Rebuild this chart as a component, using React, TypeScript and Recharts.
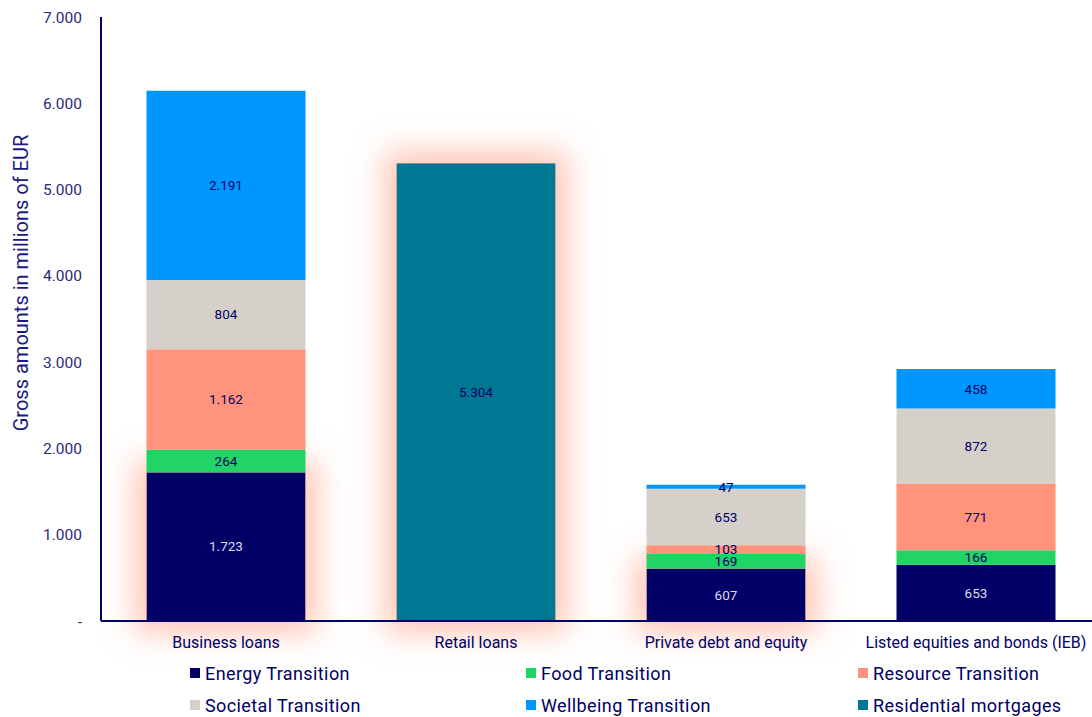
import React from "react";
import { BarChart, Bar, XAxis, YAxis, LabelList, Rectangle } from "recharts";

const categories = [
  "Business loans",
  "Retail loans",
  "Private debt and equity",
  "Listed equities and bonds (IEB)",
];
const energy = [1723, 0, 607, 653];
const food = [264, 0, 169, 166];
const resource = [1162, 0, 103, 771];
const societal = [804, 0, 653, 872];
const wellbeing = [2191, 0, 47, 458];
const residential = [0, 5304, 0, 0];
const yTicks = [0, 1000, 2000, 3000, 4000, 5000, 6000, 7000];

// which bars get the salmon halo in the original
const glowEnergy = ["Business loans", "Private debt and equity"];
const glowResidential = ["Retail loans"];

const data = categories.map((name, i) => ({
  name,
  energy: energy[i],
  food: food[i],
  resource: resource[i],
  societal: societal[i],
  wellbeing: wellbeing[i],
  residential: residential[i],
}));

const NAVY = "#000066";
const FONT = "Roboto, sans-serif";

const series = [
  { key: "energy", label: "Energy Transition", color: "#000066", text: "#dcdcec" },
  { key: "food", label: "Food Transition", color: "#21d466", text: NAVY },
  { key: "resource", label: "Resource Transition", color: "#ff937b", text: NAVY },
  { key: "societal", label: "Societal Transition", color: "#d5d1ca", text: NAVY },
  { key: "wellbeing", label: "Wellbeing Transition", color: "#0096ff", text: NAVY },
  { key: "residential", label: "Residential mortgages", color: "#007893", text: NAVY },
];

const fmt = (v: number) =>
  v === 0 ? "-" : String(v).replace(/\B(?=(\d{3})+(?!\d))/g, ".");

const glowShape = (list: string[]) => (props: any) => {
  const on = list.includes(props.payload?.name);
  return <Rectangle {...props} filter={on ? "url(#halo)" : undefined} />;
};

export default function App() {
  return (
    <div
      style={{
        position: "absolute",
        left: 0,
        top: 0,
        width: 1092,
        height: 717,
        overflow: "hidden",
        background: "#fff",
        fontFamily: FONT,
      }}
    >
      <BarChart
        width={1110}
        height={717}
        data={data}
        margin={{ top: 17, right: 9, bottom: 66, left: 0 }}
        barCategoryGap="18.2%"
      >
        <defs>
          <filter id="halo" x="-80%" y="-80%" width="260%" height="260%">
            <feMorphology in="SourceAlpha" operator="dilate" radius="12" result="d" />
            <feGaussianBlur in="d" stdDeviation="15" result="b" />
            <feFlood floodColor="#ffbfae" floodOpacity="0.9" />
            <feComposite in2="b" operator="in" result="g" />
            <feMerge>
              <feMergeNode in="g" />
              <feMergeNode in="SourceGraphic" />
            </feMerge>
          </filter>
        </defs>
        <XAxis
          dataKey="name"
          height={30}
          tickLine={false}
          axisLine={{ stroke: NAVY, strokeWidth: 2 }}
          tick={{ fill: NAVY, fontSize: 16, fontFamily: FONT }}
          tickMargin={10}
        />
        <YAxis
          width={101}
          domain={[0, 7000]}
          ticks={yTicks}
          tickFormatter={fmt}
          tickLine={false}
          axisLine={{ stroke: NAVY, strokeWidth: 2 }}
          tick={{ fill: "#2a2a7a", fontSize: 15.5, fontFamily: FONT }}
          tickMargin={13}
          label={{
            value: "Gross amounts in millions of EUR",
            angle: -90,
            position: "center",
            dx: -30,
            dy: -36,
            fill: "#1a1a80",
            fontSize: 20,
            fontFamily: FONT,
          }}
        />
        {series.map((s) => (
          <Bar
            key={s.key}
            dataKey={s.key}
            stackId="a"
            fill={s.color}
            isAnimationActive={false}
            shape={
              s.key === "energy"
                ? glowShape(glowEnergy)
                : s.key === "residential"
                ? glowShape(glowResidential)
                : undefined
            }
          >
            <LabelList
              dataKey={s.key}
              position="center"
              formatter={(v: any) => (v ? fmt(v) : "")}
              fill={s.text}
              fontSize={13.5}
              fontFamily={FONT}
            />
          </Bar>
        ))}
      </BarChart>
      <div
        style={{
          position: "absolute",
          left: 190,
          top: 662,
          width: 900,
          display: "grid",
          gridTemplateColumns: "336px 332px 232px",
          rowGap: 10,
          fontSize: 18,
          letterSpacing: 0.4,
          color: NAVY,
        }}
      >
        {series.map((s) => (
          <div key={s.key} style={{ display: "flex", alignItems: "center", height: 22 }}>
            <span
              style={{
                display: "inline-block",
                width: 10,
                height: 10,
                background: s.color,
                marginRight: 5,
              }}
            />
            {s.label}
          </div>
        ))}
      </div>
    </div>
  );
}
